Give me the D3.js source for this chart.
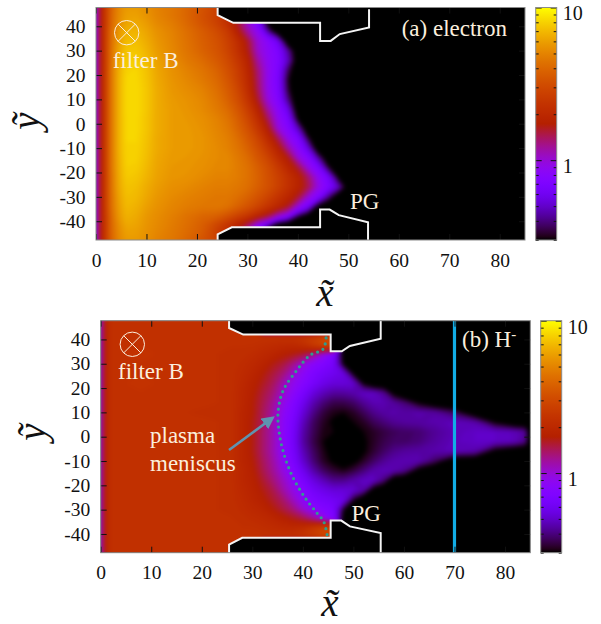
<!DOCTYPE html>
<html><head><meta charset="utf-8">
<script src="https://cdn.jsdelivr.net/npm/d3@7"></script>
<style>html,body{margin:0;padding:0;background:#fff}svg{display:block}text{font-family:"Liberation Serif",serif}</style>
</head><body><svg id="c" width="601" height="624"></svg>
<script>
const gridY=[48,44,41,38,34,30,26,22,18,14,10,6,2,-2,-6,-10,-14,-18,-22,-26,-30,-34,-38,-41,-44,-48];
const electronX=[0,1,2,3,4.5,6,8,10,12,15,18,21,24,26,28,30,32,34,36,38,40,42,44,46,48,50,52,55];
const electronRows=[
[.9,1.8,2.7,3.9,5.2,5.9,5.9,5.5,5,4.6,4,3.4,2.8,2.4,2,1.5],
[.9,1.8,2.7,4,5.3,6.1,6.2,5.7,5.1,4.6,4,3.3,2.7,2.2,1.8,1.3,.7],
[.9,1.8,2.7,4,5.5,6.4,6.5,6,5.3,4.8,4.1,3.4,2.8,2.3,1.6,1.05,.72,.3],
[.9,1.8,2.8,4.2,5.8,6.8,6.9,6.3,5.6,5,4.3,3.7,3.1,2.6,1.8,1.2,.88,.45],
[.9,1.8,2.8,4.3,6,7.2,7.3,6.6,5.8,5.1,4.4,3.8,3.3,2.8,2.2,1.6,1,.82,.6,.2],
[.9,1.8,2.8,4.4,6.3,7.6,7.7,6.9,6,5.2,4.5,3.9,3.4,2.9,2.3,1.7,1.05,.85,.72,.45,.2],
[.9,1.8,2.8,4.4,6.5,7.9,8,7.2,6.2,5.4,4.7,4.2,3.6,3.1,2.5,1.9,1.2,.87,.74,.5,.22],
[.9,1.8,2.8,4.5,6.7,8.2,8.3,7.5,6.4,5.6,5,4.5,3.9,3.3,2.7,2,1.35,.9,.72,.38,.2],
[.9,1.8,2.8,4.5,6.8,8.3,8.4,7.6,6.5,5.7,5.2,4.7,4.1,3.5,2.8,2.1,1.4,.9,.7,.33],
[.9,1.8,2.8,4.5,6.8,8.4,8.5,7.7,6.6,5.8,5.4,5,4.3,3.7,3,2.2,1.45,.92,.72,.35],
[.9,1.8,2.8,4.5,6.8,8.4,8.5,7.7,6.6,5.9,5.6,5.2,4.5,3.9,3.2,2.4,1.6,.98,.76,.42],
[.9,1.8,2.8,4.5,6.8,8.4,8.5,7.7,6.6,6,5.7,5.3,4.7,4.2,3.5,2.7,1.9,1.2,.83,.58],
[.9,1.8,2.8,4.5,6.8,8.3,8.4,7.6,6.6,6,5.8,5.5,5,4.5,3.8,3,2.2,1.45,.9,.7,.3],
[.9,1.8,2.8,4.5,6.8,8.3,8.4,7.6,6.6,6,5.9,5.6,5.1,4.7,4,3.3,2.5,1.75,1,.78,.5],
[.9,1.8,2.8,4.5,6.8,8.3,8.3,7.5,6.5,6,5.9,5.7,5.2,4.9,4.3,3.6,2.9,2.1,1.45,.9,.72,.35],
[.9,1.8,2.8,4.5,6.8,8.2,8.2,7.4,6.5,6,5.9,5.7,5.3,5,4.5,3.9,3.2,2.5,1.85,1.2,.82,.55],
[.9,1.8,2.8,4.5,6.7,8.1,8.1,7.3,6.4,5.9,5.8,5.6,5.3,5.2,4.7,4.2,3.5,2.9,2.2,1.7,1,.78,.45],
[.9,1.8,2.8,4.5,6.6,8,7.9,7.1,6.3,5.8,5.7,5.5,5.2,5.2,4.8,4.4,3.8,3.2,2.6,2,1.55,.95,.72,.35],
[.9,1.8,2.8,4.4,6.5,7.8,7.6,6.9,6.2,5.7,5.6,5.3,5,5,4.8,4.4,3.9,3.3,2.8,2.3,1.9,1.4,.88,.66,.3],
[.9,1.8,2.8,4.4,6.4,7.5,7.3,6.6,6,5.5,5.3,5,4.8,4.8,4.6,4.3,3.8,3.3,2.8,2.3,1.9,1.5,.95,.72,.5,.22],
[.9,1.8,2.8,4.3,6.2,7.3,7.1,6.4,5.8,5.3,5,4.8,4.6,4.6,4.3,3.9,3.4,2.9,2.4,2,1.6,1,.75,.42],
[.9,1.8,2.8,4.3,6,7.1,6.8,6.1,5.6,5.1,4.8,4.6,4.6,4.4,3.9,3.4,2.9,2.4,2,1.6,.95,.65,.25],
[.9,1.8,2.7,4.1,5.8,6.8,6.5,5.8,5.4,4.9,4.4,4,3.8,3.3,2.8,2.4,1.9,1.5,.98,.72,.35],
[.9,1.8,2.7,4,5.5,6.5,6.3,5.7,5.3,4.8,4.3,3.8,3,2.5,2,1.5,.92,.62,.3],
[.9,1.8,2.7,4,5.3,6.2,6.1,5.6,5.2,4.7,4.2,3.7,2.7,2.2,1.7,1.2,.7],
[.9,1.8,2.7,3.9,5.2,5.9,5.9,5.5,5,4.6,4,3.4,2.8,2.4,2,1.5]
];
const ionX=[0,1,2,4,8,15,22,26,28,30,32,34,36,38,40,42,44,46,48,50,52,54,56,58,60,63,66,70,74,78,82,84,85];
const ionRows=[
[1,1.9,2.25,2.3,2.3,2.25,2.25,2.25,2.25,2.25],
[1,1.9,2.25,2.3,2.3,2.25,2.25,2.25,2.25,2.25],
[1,1.9,2.25,2.3,2.3,2.25,2.25,2.25,2.25,2.3,2.3,2.3,2.3,2.3,2.4,2.6,2.9,3],
[1,1.9,2.25,2.3,2.3,2.25,2.25,2.25,2.25,2.25,2.2,2.15,2.1,2.1,2.25,2.6,3,3],
[1,1.9,2.25,2.3,2.35,2.25,2.25,2.2,2.2,2.15,2.05,1.95,1.8,1.7,1.55,1.3,.95,.72,.25],
[1,1.9,2.25,2.3,2.3,2.25,2.25,2.2,2.15,2.05,1.9,1.7,1.55,1.3,1,.82,.74,.66,.3],
[1,1.9,2.25,2.3,2.3,2.25,2.25,2.2,2.1,1.95,1.75,1.55,1.35,1.05,.85,.72,.64,.6,.56,.3],
[1,1.9,2.25,2.3,2.35,2.25,2.25,2.2,2.05,1.85,1.65,1.45,1.15,.92,.78,.66,.58,.54,.54,.52,.3],
[1,1.9,2.25,2.3,2.3,2.25,2.25,2.2,2,1.8,1.55,1.35,1.05,.85,.68,.55,.48,.44,.44,.46,.5,.5,.43,.28],
[1,1.9,2.25,2.3,2.3,2.25,2.25,2.2,2,1.75,1.5,1.25,.95,.76,.6,.47,.4,.36,.36,.38,.43,.47,.47,.44,.4,.3,.22],
[1,1.9,2.25,2.3,2.3,2.25,2.2,2.2,1.95,1.75,1.45,1.2,.88,.72,.54,.42,.35,.32,.31,.33,.37,.42,.45,.46,.45,.46,.45,.37,.22],
[1,1.9,2.25,2.3,2.3,2.25,2.25,2.2,1.95,1.7,1.45,1.15,.85,.68,.49,.38,.33,.3,.3,.31,.33,.37,.4,.43,.44,.45,.46,.48,.46,.3],
[1,1.9,2.25,2.3,2.3,2.25,2.25,2.2,1.95,1.7,1.4,1.15,.85,.66,.46,.37,.32,.31,.29,.3,.31,.33,.35,.37,.38,.39,.43,.47,.5,.5,.48,.44],
[1,1.9,2.25,2.3,2.3,2.25,2.25,2.2,1.95,1.7,1.4,1.15,.85,.65,.45,.36,.31,.28,.27,.28,.3,.33,.36,.38,.38,.4,.44,.48,.5,.5,.48,.42],
[1,1.9,2.25,2.3,2.3,2.25,2.25,2.2,1.95,1.7,1.4,1.15,.85,.67,.48,.38,.32,.29,.27,.28,.3,.34,.38,.42,.44,.45,.46,.48,.46,.28],
[1,1.9,2.25,2.3,2.3,2.25,2.25,2.2,1.95,1.75,1.45,1.2,.9,.7,.52,.4,.33,.3,.28,.29,.33,.38,.43,.46,.47,.47,.38,.22],
[1,1.9,2.25,2.3,2.3,2.25,2.25,2.2,2,1.8,1.5,1.25,.98,.76,.6,.46,.38,.34,.32,.35,.4,.46,.48,.47,.43,.26],
[1,1.9,2.25,2.3,2.3,2.25,2.25,2.2,2,1.85,1.6,1.35,1.1,.85,.68,.56,.48,.42,.42,.46,.5,.5,.4,.22],
[1,1.9,2.25,2.3,2.3,2.25,2.25,2.2,2.05,1.9,1.7,1.5,1.2,.95,.78,.64,.58,.54,.54,.52,.46,.25],
[1,1.9,2.25,2.3,2.3,2.25,2.25,2.2,2.1,1.95,1.8,1.6,1.4,1.1,.85,.72,.66,.62,.58,.33],
[1,1.9,2.25,2.3,2.3,2.25,2.25,2.2,2.15,2.05,1.95,1.75,1.55,1.35,1.05,.85,.76,.7,.33],
[1,1.9,2.25,2.3,2.3,2.25,2.25,2.25,2.2,2.15,2.1,2,1.85,1.7,1.55,1.3,1,.75,.25],
[1,1.9,2.25,2.3,2.3,2.25,2.25,2.25,2.25,2.25,2.2,2.15,2.1,2.1,2.25,2.6,3,3],
[1,1.9,2.25,2.3,2.3,2.25,2.25,2.25,2.25,2.3,2.3,2.3,2.3,2.3,2.4,2.6,2.9,3],
[1,1.9,2.25,2.3,2.3,2.25,2.25,2.25,2.25,2.25],
[1,1.9,2.25,2.3,2.3,2.25,2.25,2.25,2.25,2.25]
];
const wallTopA=[[24.1,48],[24.1,44.6],[27.2,41.4],[44.4,41.4],[44.4,34],[46.5,34],[48.3,36.8],[54.1,39.5],[54.1,47]];
const wallBotA=[[24.1,-48],[24.1,-45.4],[26.9,-42.5],[44.4,-42.5],[44.4,-35.2],[46.3,-35.2],[48.1,-37.5],[53.9,-40.4],[53.9,-48]];
const wallTopB=[[25.4,48],[25.4,44.7],[28.2,42],[45.5,42],[45.5,35.1],[47.7,35.1],[49.3,37.3],[55.4,40.3],[55.4,48]];
const wallBotB=[[25.4,-48],[25.4,-44.4],[28,-41.6],[45.5,-41.6],[45.5,-34.5],[47.6,-34.5],[49.3,-36.9],[55.4,-39.6],[55.4,-48]];
const meniscusX=[44.6,44,41.4,38.8,36.1,35.1,35.3,36.1,37.8,40.4,42.8,44.1,44.8];
const meniscusY=[40.6,36,33.5,27.3,19,10.3,2,-6,-15.7,-25,-31.4,-34.8,-40.3];
const xTicks=[0,10,20,30,40,50,60,70,80];
const yTicks=[-40,-30,-20,-10,0,10,20,30,40];
const barMajor=[1,10];
const barMinor=[.3,.4,.5,.6,.7,.8,.9,2,3,4,5,6,7,8,9];
const vMin=.3,vMax=10,floor=.2;

const svg=d3.select("#c");
const defs=svg.append("defs");
const blur=defs.append("filter").attr("id","soft").attr("x","-5%").attr("y","-5%").attr("width","110%").attr("height","110%")
  .attr("color-interpolation-filters","sRGB");
blur.append("feGaussianBlur").attr("stdDeviation",1.9);
function palette(t){t=Math.max(0,Math.min(1,t));
  const f=u=>Math.round(255*Math.max(0,Math.min(1,u)));
  return `rgb(${f(Math.sqrt(t))},${f(t*t*t)},${f(Math.sin(2*Math.PI*t))})`;}
const tOf=d3.scaleLog().domain([vMin,vMax]).range([0,1]);
const stops=d3.range(0,65).map(i=>i/64);
const grad=defs.append("linearGradient").attr("id","bar").attr("x1",0).attr("x2",0).attr("y1",1).attr("y2",0);
stops.forEach(s=>grad.append("stop").attr("offset",s).attr("stop-color",palette(s)));
const levels=d3.range(0,110).map(i=>vMin*Math.pow(vMax/vMin,i/110));

function panel(cfg){
  const xS=d3.scaleLinear().domain([0,85]).range([cfg.left,cfg.right]);
  const yS=d3.scaleLinear().domain([cfg.ymax,-cfg.ymax]).range([cfg.top,cfg.bottom]);
  const g=svg.append("g");
  const clipPts=[[0,48],...cfg.wallTop.slice(0,6),[85,cfg.wallTop[5][1]],[85,cfg.wallBot[5][1]],...cfg.wallBot.slice(0,6).reverse(),[0,-48]];
  const line=d3.line().x(d=>xS(d[0])).y(d=>yS(d[1]));
  defs.append("clipPath").attr("id",cfg.id+"-frame").append("rect")
    .attr("x",cfg.left).attr("y",cfg.top).attr("width",cfg.right-cfg.left).attr("height",cfg.bottom-cfg.top);
  defs.append("clipPath").attr("id",cfg.id+"-dom").append("path").attr("d",line(clipPts)+"Z");
  g.append("rect").attr("x",cfg.left).attr("y",cfg.top).attr("width",cfg.right-cfg.left).attr("height",cfg.bottom-cfg.top).attr("fill","#000");

  const nx=cfg.xs.length,ny=gridY.length;
  const flat=[];cfg.rows.forEach(r=>{for(let i=0;i<nx;i++)flat.push(i<r.length?r[i]:floor);});
  const ix=d3.scaleLinear().domain(d3.range(nx)).range(cfg.xs);
  const iy=d3.scaleLinear().domain(d3.range(ny)).range(gridY);
  const path=d3.geoPath(d3.geoTransform({point(x,y){this.stream.point(xS(ix(x-.5)),yS(iy(y-.5)));}}));
  const bands=d3.contours().size([nx,ny]).thresholds(levels)(flat);
  const clipA=g.append("g").attr("clip-path",`url(#${cfg.id}-frame)`);
  clipA.append("g").attr("clip-path",`url(#${cfg.id}-dom)`)
    .append("g").attr("filter","url(#soft)")
    .selectAll("path").data(bands).join("path").attr("d",path).attr("fill",d=>palette(tOf(d.value)));

  const fg=g.append("g").attr("clip-path",`url(#${cfg.id}-frame)`);
  [cfg.wallTop,cfg.wallBot].forEach(w=>fg.append("path").attr("d",line(w)).attr("fill","none").attr("stroke","#f4f4f4").attr("stroke-width",2));

  // axes
  const tf=d=>String(d);
  const style=a=>{a.select(".domain").remove();a.selectAll("line").attr("stroke","#111");
    a.selectAll("text").attr("fill","#111").style("font-size","19.5px").style("font-family","Liberation Serif");};
  g.append("g").attr("transform",`translate(0,${cfg.bottom})`)
    .call(d3.axisBottom(xS).tickValues(xTicks).tickSize(-6).tickPadding(cfg.xPad).tickFormat(tf)).call(style);
  g.append("g").attr("transform",`translate(0,${cfg.top})`)
    .call(d3.axisTop(xS).tickValues(xTicks).tickSize(-6).tickFormat("")).call(style);
  g.append("g").attr("transform",`translate(${cfg.left},0)`)
    .call(d3.axisLeft(yS).tickValues(yTicks).tickSize(-6).tickPadding(10.5).tickFormat(tf)).call(style);
  g.append("g").attr("transform",`translate(${cfg.right},0)`)
    .call(d3.axisRight(yS).tickValues(yTicks).tickSize(-6).tickFormat("")).call(style);
  g.append("rect").attr("x",cfg.left).attr("y",cfg.top).attr("width",cfg.right-cfg.left).attr("height",cfg.bottom-cfg.top)
    .attr("fill","none").attr("stroke","#8a8a8a");

  // colour bar
  const bS=d3.scaleLog().domain([vMin,vMax]).range([cfg.bottom,cfg.top]);
  const bg=svg.append("g");
  bg.append("rect").attr("x",cfg.barL).attr("y",cfg.top).attr("width",cfg.barR-cfg.barL).attr("height",cfg.bottom-cfg.top).attr("fill","url(#bar)");
  const st2=a=>{a.select(".domain").remove();a.selectAll("line").attr("stroke","#111");
    a.selectAll("text").attr("fill","#111").attr("dy","0.62em").style("font-size","20px").style("font-family","Liberation Serif");};
  bg.append("g").attr("transform",`translate(${cfg.barR},0)`).call(d3.axisRight(bS).tickValues(barMajor).tickSize(-6).tickPadding(6).tickFormat(tf)).call(st2);
  bg.append("g").attr("transform",`translate(${cfg.barL},0)`).call(d3.axisLeft(bS).tickValues(barMajor).tickSize(-6).tickFormat("")).call(st2);
  bg.append("g").attr("transform",`translate(${cfg.barR},0)`).call(d3.axisRight(bS).tickValues(barMinor).tickSize(-3).tickFormat("")).call(st2);
  bg.append("g").attr("transform",`translate(${cfg.barL},0)`).call(d3.axisLeft(bS).tickValues(barMinor).tickSize(-3).tickFormat("")).call(st2);
  bg.append("rect").attr("x",cfg.barL).attr("y",cfg.top).attr("width",cfg.barR-cfg.barL).attr("height",cfg.bottom-cfg.top).attr("fill","none").attr("stroke","#8a8a8a");

  // annotations
  const cream="#fbeedd";
  const lab=(t,x,y,s)=>svg.append("text").attr("x",x).attr("y",y).attr("fill",cream).style("font-size",(s||23)+"px").text(t);
  const c=cfg.cross;
  svg.append("circle").attr("cx",c[0]).attr("cy",c[1]).attr("r",12.2).attr("fill","none").attr("stroke",cream).attr("stroke-width",1);
  const k=12.2*Math.SQRT1_2;
  [[-1,-1,1,1],[-1,1,1,-1]].forEach(d=>svg.append("line").attr("x1",c[0]+d[0]*k).attr("y1",c[1]+d[1]*k).attr("x2",c[0]+d[2]*k).attr("y2",c[1]+d[3]*k).attr("stroke",cream).attr("stroke-width",1));
  lab("filter B",cfg.filter[0],cfg.filter[1]);
  lab("PG",cfg.pg[0],cfg.pg[1]);
  // axis titles
  svg.append("text").attr("x",cfg.xTitle[0]).attr("y",cfg.xTitle[1]).attr("text-anchor","middle").attr("fill","#111").style("font-size","39px").style("font-style","italic").text("x\u0303");
  svg.append("text").attr("transform",`translate(${cfg.yTitle[0]},${cfg.yTitle[1]}) rotate(-90)`).attr("text-anchor","middle").attr("fill","#111").style("font-size","39px").style("font-style","italic").text("y\u0303");
  return {xS,yS,line,fg,lab,cream};
}

const common={ymax:47.7};
const a=panel({...common,id:"a",left:96,right:525,top:7.5,bottom:240,xs:electronX,rows:electronRows,wallTop:wallTopA,wallBot:wallBotA,
  barL:535.7,barR:556.7,xPad:13.5,cross:[126.7,32.7],filter:[112.7,68],pg:[350,209],xTitle:[325,306],yTitle:[39,121]});
a.lab("(a) electron",401.7,35.7);

const b=panel({...common,id:"b",left:100.7,right:530.3,top:320.7,bottom:552.7,xs:ionX,rows:ionRows,wallTop:wallTopB,wallBot:wallBotB,
  barL:540.7,barR:561.7,xPad:12,cross:[132.3,344.3],filter:[118,379],pg:[351.5,521],xTitle:[330,616],yTitle:[45,432]});
const bt=b.lab("(b) H",462,347);
bt.append("tspan").attr("dy",-8).style("font-size","15px").text("-");
b.fg.append("line").attr("x1",b.xS(70)).attr("x2",b.xS(70)).attr("y1",320.7).attr("y2",552.7).attr("stroke","#12ade6").attr("stroke-width",3.2);
b.fg.append("path").attr("d",d3.line().x((d,i)=>b.xS(d)).y((d,i)=>b.yS(meniscusY[i])).curve(d3.curveCatmullRom)(meniscusX))
  .attr("fill","none").attr("stroke","#2f9d8f").attr("stroke-width",3.2).attr("stroke-linecap","round").attr("stroke-dasharray","0 6");
// arrow
const arrowFrom=[229,450],arrowTo=[272.7,417.7];
defs.append("marker").attr("id","ah").attr("markerWidth",5).attr("markerHeight",5).attr("refX",4).attr("refY",2.5).attr("orient","auto")
  .append("path").attr("d","M0,0L5,2.5L0,5Z").attr("fill","#5f93b0");
svg.append("line").attr("x1",arrowFrom[0]).attr("y1",arrowFrom[1]).attr("x2",arrowTo[0]).attr("y2",arrowTo[1]).attr("stroke","#5f93b0").attr("stroke-width",2.6).attr("marker-end","url(#ah)");
b.lab("plasma",150,443);
b.lab("meniscus",150,471);
</script></body></html>
